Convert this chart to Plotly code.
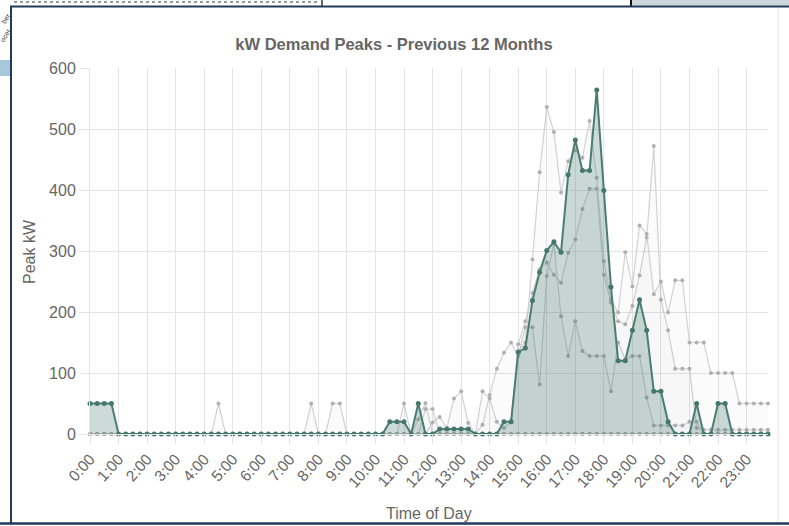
import plotly.graph_objects as go

# 15-minute time slots
times = [f"{h}:{m:02d}" for h in range(24) for m in (0, 15, 30, 45)]
hour_ticks = [f"{h}:00" for h in range(24)]

# Highlighted (current) series, one row per hour (4 quarter-hours)
peak_main = [
    50, 50, 50, 50,
    0, 0, 0, 0,
    0, 0, 0, 0,
    0, 0, 0, 0,
    0, 0, 0, 0,
    0, 0, 0, 0,
    0, 0, 0, 0,
    0, 0, 0, 0,
    0, 0, 0, 0,
    0, 0, 0, 0,
    0, 0, 20, 20,
    20, 0, 50, 0,
    0, 8, 8, 8,
    8, 8, 0, 0,
    0, 0, 20, 20,
    134, 141, 219, 265,
    301, 315, 298, 425,
    482, 432, 432, 564,
    399, 241, 120, 120,
    170, 220, 170, 70,
    70, 20, 0, 0,
    0, 50, 0, 0,
    50, 50, 0, 0,
    0, 0, 0, 0,
]

# Other months (light grey)
month_a = [
    0, 0, 0, 0,  0, 0, 0, 0,  0, 0, 0, 0,  0, 0, 0, 0,
    0, 0, 0, 0,  0, 0, 0, 0,  0, 0, 0, 0,  0, 0, 0, 0,
    0, 0, 0, 0,  0, 0, 0, 0,  0, 0, 0, 0,  0, 0, 0, 0,
    0, 0, 0, 0,
    0, 0, 0, 0,
    0, 0, 20, 20,
    136, 150, 286, 429,
    536, 495, 396, 447,
    465, 453, 513, 420,
    283, 220, 199, 298,
    242, 342, 328, 229,
    250, 199, 252, 252,
    150, 150, 150, 100,
    100, 100, 100, 50,
    50, 50, 50, 50,
]

month_b = [
    0, 0, 0, 0,  0, 0, 0, 0,  0, 0, 0, 0,  0, 0, 0, 0,
    0, 0, 0, 0,  0, 0, 0, 0,  0, 0, 0, 0,  0, 0, 0, 0,
    0, 0, 0, 0,  0, 0, 0, 0,  0, 0, 0, 0,
    50, 0, 0, 41,
    41, 0, 0, 0,
    0, 0, 0, 70,
    58, 20, 10, 20,
    147, 185, 231, 270,
    281, 261, 248, 297,
    319, 369, 402, 402,
    261, 215, 185, 180,
    210, 260, 322, 472,
    220, 170, 107, 107,
    107, 10, 7, 7,
    7, 7, 7, 7,
    7, 7, 7, 7,
]

month_c = [
    0, 0, 0, 0,  0, 0, 0, 0,  0, 0, 0, 0,  0, 0, 0, 0,
    0, 0, 0, 0,  0, 0, 0, 0,  0, 0, 0, 0,  0, 0, 0, 0,
    0, 0, 0, 0,  0, 0, 0, 0,  0, 0, 0, 0,  0, 0, 0, 0,
    19, 28, 10, 58,
    70, 18, 0, 15,
    64, 107, 133, 150,
    128, 175, 175, 81,
    259, 312, 193, 128,
    185, 136, 128, 128,
    128, 70, 150, 122,
    128, 128, 60, 14,
    14, 14, 14, 14,
    20, 20, 0, 0,
    0, 0, 0, 0,
]

month_d = [
    0, 0, 0, 0,  0, 0, 0, 0,  0, 0, 0, 0,  0, 0, 0, 0,
    0, 0, 50, 0,
    0, 0, 0, 0,  0, 0, 0, 0,
    0, 0, 0, 50,
    0, 0, 50, 50,
    0, 0, 0, 0,  0, 0, 0, 0,
    0, 0, 24, 51,
    0, 0, 0, 0,  0, 0, 0, 0,  0, 0, 0, 0,
    0, 0, 0, 0,  0, 0, 0, 0,  0, 0, 0, 0,  0, 0, 0, 0,
    0, 0, 0, 0,  0, 0, 0, 0,  0, 0, 0, 0,  0, 0, 0, 0,
    0, 0, 0, 0,  0, 0, 0, 0,
]

month_e = [0] * 96  # month with no recorded demand

grey_months = [month_e, month_d, month_c, month_b, month_a]

fig = go.Figure()
for vals in grey_months:
    fig.add_trace(go.Scatter(
        x=times, y=vals, mode="lines+markers",
        line=dict(color="rgba(195,195,195,0.75)", width=1.2),
        marker=dict(size=4, color="rgba(170,170,170,0.9)"),
        fill="tozeroy", fillcolor="rgba(150,150,150,0.035)",
        cliponaxis=False, showlegend=False, hoverinfo="skip",
    ))

fig.add_trace(go.Scatter(
    x=times, y=peak_main, mode="lines+markers",
    line=dict(color="#4a7d74", width=2),
    marker=dict(size=5, color="#46776e"),
    fill="tozeroy", fillcolor="rgba(60,115,105,0.26)",
    cliponaxis=False, showlegend=False, hoverinfo="skip",
))

W, H = 789, 526
L, R, T, B = 90, 21, 68, 92
pw, ph = W - L - R, H - T - B


def px(x):
    return (x - L) / pw


def py(y):
    return (H - B - y) / ph


grid = "#e4e4e4"
navy = "#1f3a5a"
shapes = [
    # page chrome around the chart card
    dict(type="rect", x0=px(631), x1=px(789), y0=py(0), y1=py(5.5),
         fillcolor="#cdd6dc", line=dict(width=0)),
    dict(type="line", x0=px(631), x1=px(631), y0=py(0), y1=py(6),
         line=dict(color="#111111", width=2)),
    dict(type="line", x0=px(322), x1=px(322), y0=py(0), y1=py(6),
         line=dict(color="#333333", width=1.5)),
    dict(type="line", x0=px(14), x1=px(318), y0=py(2), y1=py(2),
         line=dict(color="#9a9a9a", width=2, dash="dot")),
    dict(type="line", x0=px(10), x1=px(789), y0=py(6.5), y1=py(6.5),
         line=dict(color=navy, width=2)),
    dict(type="line", x0=px(11), x1=px(11), y0=py(6), y1=py(523),
         line=dict(color=navy, width=2)),
    dict(type="line", x0=px(0), x1=px(789), y0=py(523.5), y1=py(523.5),
         line=dict(color=navy, width=2.5)),
    dict(type="line", x0=px(778), x1=px(778), y0=py(8), y1=py(522),
         line=dict(color="#e6e6e6", width=1)),
    dict(type="rect", x0=px(0), x1=px(10), y0=py(76), y1=py(60),
         fillcolor="#a9c7da", line=dict(width=0)),
]
for s in shapes:
    s["xref"] = "paper"
    s["yref"] = "paper"
    s["layer"] = "above"

fig.update_layout(
    width=W, height=H,
    margin=dict(l=L, r=R, t=T, b=B, autoexpand=False),
    paper_bgcolor="white", plot_bgcolor="white",
    hovermode=False,
    font=dict(family="Liberation Sans, Arial, sans-serif", color="#666666", size=16),
    title=dict(text="<b>kW Demand Peaks - Previous 12 Months</b>",
               x=394 / W, xref="container", xanchor="center",
               y=1 - 44 / H, yref="container", yanchor="middle",
               font=dict(size=16.5, color="#666666")),
    xaxis=dict(
        type="category", range=[0, 95], automargin=False,
        tickmode="array", tickvals=hour_ticks, ticktext=hour_ticks,
        tickangle=-48, showgrid=True, gridcolor=grid, gridwidth=1,
        showline=True, linecolor=grid, ticks="outside", ticklen=9,
        tickcolor=grid, tickfont=dict(size=15.5, color="#666666"),
        zeroline=False,
    ),
    yaxis=dict(
        range=[0, 600], tickvals=[0, 100, 200, 300, 400, 500, 600],
        automargin=False,
        showgrid=True, gridcolor=grid, gridwidth=1,
        showline=True, linecolor=grid, ticks="outside", ticklen=10,
        tickcolor=grid, tickfont=dict(size=16, color="#666666"),
        zeroline=False,
    ),
    shapes=shapes,
    annotations=[
        dict(text="Peak kW", x=px(29), y=py(251), xref="paper", yref="paper",
             xanchor="center", yanchor="middle",
             textangle=-90, showarrow=False, font=dict(size=16, color="#666666")),
        dict(text="Time of Day", x=px(429), y=py(513), xref="paper", yref="paper",
             xanchor="center", yanchor="middle",
             showarrow=False, font=dict(size=16, color="#666666")),
        dict(text="ber", x=px(5.5), y=py(18), xref="paper", yref="paper",
             xanchor="center", yanchor="middle",
             textangle=-60, showarrow=False, font=dict(size=7, color="#444444")),
        dict(text="ocer", x=px(5.5), y=py(36), xref="paper", yref="paper",
             xanchor="center", yanchor="middle",
             textangle=-60, showarrow=False, font=dict(size=7, color="#444444")),
    ],
)

fig.write_html(
    "out.html",
    config={"displayModeBar": False, "staticPlot": True},
    post_script="document.body.style.margin='0px';document.body.style.overflow='hidden';",
)
